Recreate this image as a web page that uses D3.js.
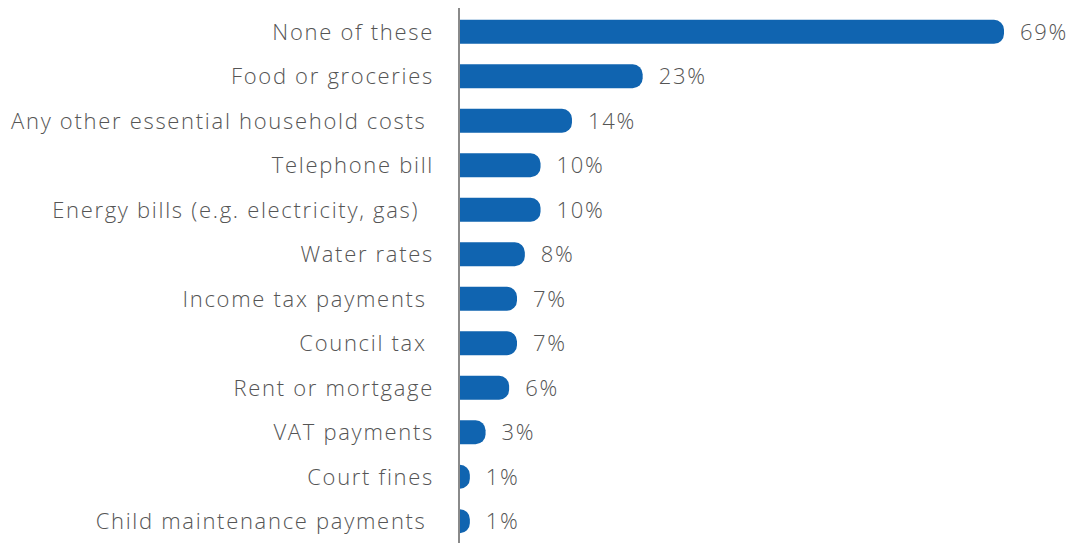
<!DOCTYPE html>
<html>
<head>
<meta charset="utf-8">
<script src="https://cdn.jsdelivr.net/npm/d3@7"></script>
<style>
  html, body { margin: 0; padding: 0; background: #fff; }
  svg text { font-family: "Open Sans", Lato, sans-serif; font-weight: 300; white-space: pre; letter-spacing: 1.7px; }
</style>
</head>
<body>
<svg id="chart" width="1072" height="543"></svg>
<script>
// Categories (top to bottom) and their shares in percent
const categories = [
  "None of these",
  "Food or groceries",
  "Any other essential household costs ",
  "Telephone bill",
  "Energy bills (e.g. electricity, gas)  ",
  "Water rates",
  "Income tax payments ",
  "Council tax ",
  "Rent or mortgage",
  "VAT payments",
  "Court fines",
  "Child maintenance payments "
];
const values = [69, 23, 14, 10, 10, 8, 7, 7, 6, 3, 1, 1];

const svg = d3.select("#chart");
const margin = { top: 10, right: 68, bottom: 0, left: 459 };
const width = 1072 - margin.left - margin.right;
const height = 543 - margin.top - margin.bottom;

const g = svg.append("g").attr("transform", `translate(${margin.left},${margin.top})`);

// small offset so the rounded end of tiny bars stays visible
const x = d3.scaleLinear().domain([0, 69]).range([3, 545]);
const y = d3.scaleBand().domain(categories).range([0, height]).paddingInner(0.46).paddingOuter(0.22);

const barColor = "#1064b0";
const r = 10;
const bh = y.bandwidth();
const fontSize = 22;

// Bars with rounded right end
g.selectAll("path.bar")
  .data(categories)
  .join("path")
  .attr("class", "bar")
  .attr("fill", barColor)
  .attr("d", (d, i) => {
    const w = x(values[i]);
    const y0 = y(d);
    const rr = Math.min(r, w, bh / 2);
    return `M0,${y0}H${w - rr}A${rr},${rr} 0 0 1 ${w},${y0 + rr}V${y0 + bh - rr}A${rr},${rr} 0 0 1 ${w - rr},${y0 + bh}H0Z`;
  });

// Value labels
g.selectAll("text.val")
  .data(categories)
  .join("text")
  .attr("class", "val")
  .attr("x", (d, i) => x(values[i]) + 16)
  .attr("y", d => y(d) + bh / 2)
  .attr("dy", "0.36em")
  .attr("fill", "#555")
  .attr("font-size", fontSize)
  .text((d, i) => values[i] + "%");

// Category axis
const axis = d3.axisLeft(y).tickSize(0).tickPadding(25);
const ax = g.append("g").call(axis);
ax.select(".domain").attr("stroke", "#8a8a8a").attr("stroke-width", 2)
  .attr("d", `M0,-2V${height}`);
ax.selectAll("text")
  .attr("fill", "#555")
  .attr("font-size", fontSize)
  .attr("dy", "0.36em")
  .style("font-family", "'Open Sans', Lato, sans-serif");
</script>
</body>
</html>
